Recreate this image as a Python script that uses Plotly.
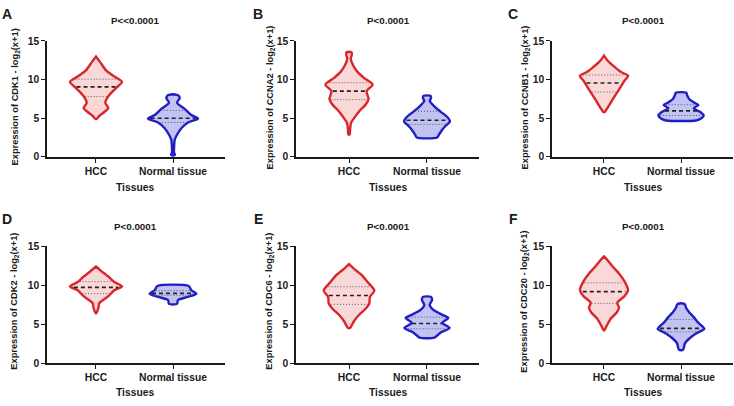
import numpy as np
import plotly.graph_objects as go

categories = ["HCC", "Normal tissue"]
genes = ["CDK1", "CCNA2", "CCNB1", "CDK2", "CDC6", "CDC20"]
panel_letters = ["A", "B", "C", "D", "E", "F"]
p_texts = ["P<<0.0001", "P<0.0001", "P<0.0001", "P<0.0001", "P<0.0001", "P<0.0001"]
y_ticks = [0, 5, 10, 15]

# Violin outline profiles: expression levels and half-widths (category units)
A_hcc_y = [4.9, 5.3, 5.8, 6.3, 7.0, 7.9, 8.9, 9.7, 10.4, 11.2, 12.3, 13.0]
A_hcc_w = [0.009, 0.043, 0.108, 0.16, 0.121, 0.165, 0.26, 0.338, 0.238, 0.13, 0.052, 0]
A_nor_y = [0.15, 0.3, 0.5, 1.0, 2.2, 2.85, 3.7, 4.45, 4.95, 5.4, 6.2, 7.0, 7.6, 7.95, 8.1]
A_nor_w = [0.009, 0.026, 0.013, 0.013, 0.022, 0.052, 0.108, 0.195, 0.325, 0.238, 0.152, 0.052, 0.087, 0.069, 0]

B_hcc_y = [2.9, 3.5, 4.4, 5.0, 6.0, 6.8, 7.5, 8.5, 9.35, 10.2, 11.0, 11.85, 12.7, 13.2, 13.5, 13.6]
B_hcc_w = [0.009, 0.013, 0.026, 0.065, 0.139, 0.216, 0.251, 0.225, 0.303, 0.195, 0.108, 0.052, 0.022, 0.035, 0.035, 0]
B_nor_y = [2.5, 2.85, 3.5, 4.0, 4.6, 5.15, 5.85, 6.6, 7.25, 7.6, 7.9]
B_nor_w = [0.13, 0.152, 0.195, 0.238, 0.294, 0.26, 0.173, 0.087, 0.035, 0.052, 0.043]

C_hcc_y = [5.8, 6.1, 6.8, 7.7, 8.7, 9.76, 10.5, 11.0, 11.7, 12.5, 13.1]
C_hcc_w = [0.009, 0.03, 0.074, 0.13, 0.195, 0.26, 0.312, 0.216, 0.13, 0.043, 0]
C_nor_y = [4.7, 4.95, 5.35, 5.8, 6.3, 6.7, 7.0, 7.45, 8.0, 8.3]
C_nor_w = [0.195, 0.26, 0.294, 0.251, 0.165, 0.225, 0.173, 0.108, 0.078, 0.069]

D_hcc_y = [6.4, 6.8, 7.25, 7.7, 8.1, 8.7, 9.35, 9.85, 10.4, 11.0, 11.85, 12.4]
D_hcc_w = [0.004, 0.022, 0.035, 0.043, 0.095, 0.173, 0.238, 0.338, 0.238, 0.173, 0.065, 0]
D_nor_y = [7.6, 8.1, 8.5, 8.9, 9.35, 9.9]
D_nor_w = [0.052, 0.065, 0.195, 0.303, 0.238, 0.203]

E_hcc_y = [4.5, 5.4, 6.2, 7.0, 7.65, 8.5, 9.3, 10.4, 11.2, 12.1, 12.7]
E_hcc_w = [0.013, 0.065, 0.13, 0.216, 0.26, 0.268, 0.325, 0.238, 0.173, 0.065, 0]
E_nor_y = [3.27, 3.9, 4.5, 5.15, 5.8, 6.2, 6.8, 7.45, 8.1, 8.5]
E_nor_w = [0.095, 0.173, 0.29, 0.195, 0.273, 0.195, 0.087, 0.035, 0.065, 0.052]

F_hcc_y = [4.2, 4.8, 5.7, 6.5, 7.1, 7.75, 8.6, 9.4, 10.45, 11.5, 12.3, 13.15, 13.7]
F_hcc_w = [0.004, 0.035, 0.087, 0.165, 0.195, 0.173, 0.268, 0.312, 0.268, 0.195, 0.121, 0.052, 0]
F_nor_y = [1.67, 1.9, 2.55, 3.15, 3.8, 4.4, 5.25, 5.9, 6.5, 7.1, 7.5, 7.65]
F_nor_w = [0.022, 0.035, 0.052, 0.108, 0.195, 0.303, 0.216, 0.165, 0.108, 0.065, 0.052, 0.022]

# Quartiles [Q1, median, Q3]
A_hcc_q = [7.8, 9.05, 10.05]
A_nor_q = [4.45, 5.0, 6.0]
B_hcc_q = [7.4, 8.5, 9.6]
B_nor_q = [4.2, 4.73, 5.9]
C_hcc_q = [8.4, 9.55, 10.6]
C_nor_q = [5.35, 5.95, 6.75]
D_hcc_q = [8.92, 9.72, 10.47]
D_nor_q = [8.7, 8.95, 9.3]
E_hcc_q = [7.54, 8.67, 9.8]
E_nor_q = [4.4, 5.07, 5.9]
F_hcc_q = [7.67, 9.17, 10.3]
F_nor_q = [4.0, 4.45, 5.6]

profiles = [
    ((A_hcc_y, A_hcc_w, A_hcc_q), (A_nor_y, A_nor_w, A_nor_q)),
    ((B_hcc_y, B_hcc_w, B_hcc_q), (B_nor_y, B_nor_w, B_nor_q)),
    ((C_hcc_y, C_hcc_w, C_hcc_q), (C_nor_y, C_nor_w, C_nor_q)),
    ((D_hcc_y, D_hcc_w, D_hcc_q), (D_nor_y, D_nor_w, D_nor_q)),
    ((E_hcc_y, E_hcc_w, E_hcc_q), (E_nor_y, E_nor_w, E_nor_q)),
    ((F_hcc_y, F_hcc_w, F_hcc_q), (F_nor_y, F_nor_w, F_nor_q)),
]

W, H = 734, 406
line_cols = ["#d8262b", "#1f1fc4"]
fill_cols = ["#fbd8d8", "#c3c3f3"]

# layout geometry in pixels
col_px = [(47, 225, -0.636, 1.675), (296, 479, -0.68, 1.667), (552, 733, -0.675, 1.675)]
row_px = [(37, 156), (248, 368)]
letter_x = [7, 258, 513]
title_x = [135, 388, 643]
ytitle_x = [15, 270, 525]
row_letter_y = [9, 220]
row_title_y = [16, 228]
row_xtitle_y = [188, 398]
row_ytitle_y = [95, 305]

fig = go.Figure()
annotations = []
font_fam = "Liberation Sans, Arial, sans-serif"
txt_col = "#1a1a1a"


def note(text, xp, yp, size, angle=0):
    return dict(text=text, x=xp / W, y=1 - yp / H, xref="paper", yref="paper",
                xanchor="center", yanchor="middle", showarrow=False, textangle=angle,
                font=dict(family=font_fam, size=size, color=txt_col, weight="bold"))


for i in range(6):
    r, c = divmod(i, 3)
    ax = "" if i == 0 else str(i + 1)
    xref, yref = "x" + ax, "y" + ax
    for k, (vals, hw, q) in enumerate(profiles[i]):
        vals = np.array(vals, float)
        hw = np.array(hw, float)
        xs = np.concatenate([k + hw, (k - hw)[::-1], [k + hw[0]]])
        ys = np.concatenate([vals, vals[::-1], [vals[0]]])
        fig.add_trace(go.Scatter(
            x=xs, y=ys, mode="lines", fill="toself", fillcolor=fill_cols[k],
            line=dict(color=line_cols[k], width=2.4, shape="spline", smoothing=0.7),
            xaxis=xref, yaxis=yref, hoverinfo="skip", showlegend=False))
        for j, qv in enumerate(q):
            half = float(np.interp(qv, vals, hw)) * 0.92
            fig.add_trace(go.Scatter(
                x=[k - half, k + half], y=[qv, qv], mode="lines",
                line=dict(color="#222222" if j == 1 else "#555555",
                          width=1.6 if j == 1 else 1.0,
                          dash="4px,3px" if j == 1 else "1px,2px"),
                xaxis=xref, yaxis=yref, hoverinfo="skip", showlegend=False))

    x0, x1, rlo, rhi = col_px[c]
    top, bot = row_px[r]
    fig.layout["xaxis" + ax] = dict(
        domain=[x0 / W, x1 / W], range=[rlo, rhi], anchor=yref,
        showline=True, linecolor="#1a1a1a", linewidth=1.5,
        ticks="outside", ticklen=4, tickwidth=1.3, tickcolor="#1a1a1a",
        tickvals=[0, 1], ticktext=categories, showgrid=False, zeroline=False,
        tickfont=dict(family=font_fam, size=10.3, color=txt_col, weight="bold"),
        fixedrange=True)
    fig.layout["yaxis" + ax] = dict(
        domain=[1 - bot / H, 1 - top / H], range=[0, 15], anchor=xref,
        showline=True, linecolor="#1a1a1a", linewidth=1.5,
        ticks="outside", ticklen=4, tickwidth=1.3, tickcolor="#1a1a1a",
        tickvals=y_ticks, showgrid=False, zeroline=False,
        tickfont=dict(family=font_fam, size=10.3, color=txt_col, weight="bold"),
        fixedrange=True)

    annotations.append(note(panel_letters[i], letter_x[c], row_letter_y[r], 14))
    annotations.append(note(p_texts[i], title_x[c], row_title_y[r], 9.8))
    annotations.append(note("Tissues", title_x[c], row_xtitle_y[r], 10.3))
    annotations.append(note("Expression of " + genes[i] + " - log<sub>2</sub>(x+1)",
                            ytitle_x[c], row_ytitle_y[r], 9.3, angle=-90))

fig.update_layout(width=W, height=H, margin=dict(l=0, r=0, t=0, b=0),
                  paper_bgcolor="white", plot_bgcolor="white",
                  annotations=annotations, showlegend=False)
fig.write_html("out.html", config={"displayModeBar": False},
               post_script="document.body.style.margin='0';document.body.style.overflow='hidden';")
